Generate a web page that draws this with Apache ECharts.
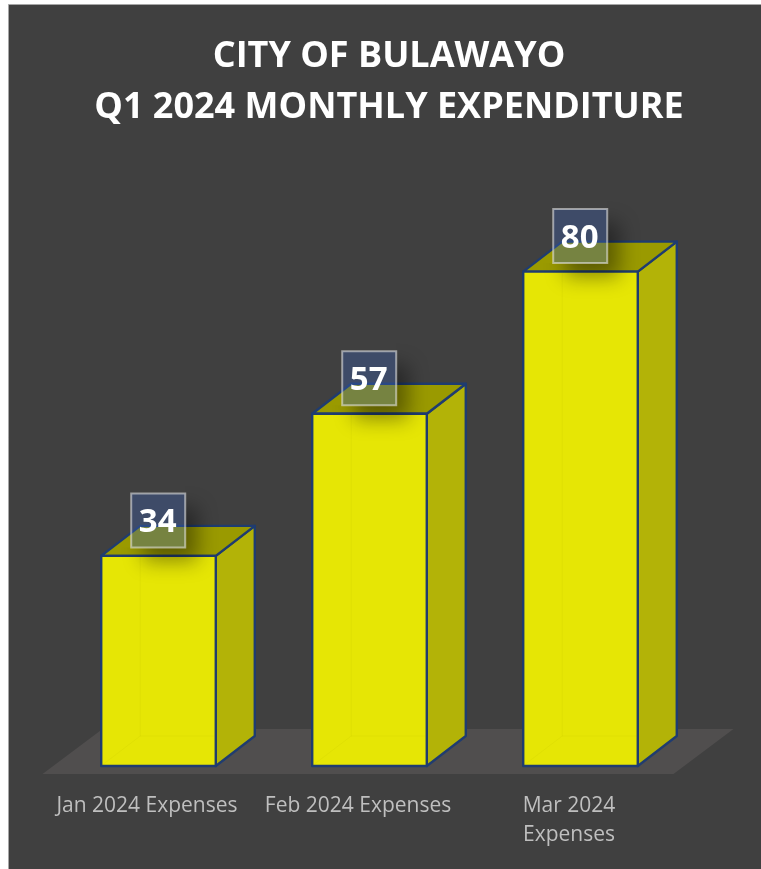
<!DOCTYPE html>
<html>
<head>
<meta charset="utf-8">
<title>City of Bulawayo Q1 2024</title>
<script src="https://cdn.jsdelivr.net/npm/echarts@6/dist/echarts.min.js"></script>
<style>
html, body { margin: 0; padding: 0; background: #fff; }
#chart { width: 761px; height: 869px; }
</style>
</head>
<body>
<div id="chart"></div>
<script>
const categories = ['Jan 2024 Expenses', 'Feb 2024 Expenses', 'Mar 2024\nExpenses']
const expenses = [34, 57, 80]

const depthX = 39
const depthY = 30
const outline = '#1f3c70'

function poly(points, fill, stroke) {
  return {
    type: 'polygon',
    shape: { points },
    style: { fill, stroke: stroke || 'none', lineWidth: 2.4, lineJoin: 'round' },
  }
}

function renderFloor(params, api) {
  const g = params.coordSys
  const y = g.y + g.height
  return poly([
    [g.x - 10, y + 8],
    [g.x + g.width - 12, y + 8],
    [g.x + g.width + 48, y - 37],
    [g.x + 50, y - 37],
  ], '#504e4e')
}

function renderBar(params, api) {
  const top = api.coord([api.value(0), api.value(1)])
  const base = api.coord([api.value(0), 0])
  const w = api.size([1, 0])[0] * 0.543
  const l = top[0] - w / 2 + 0.5
  const r = l + w
  const t = top[1]
  const b = base[1]
  const val = api.value(1)
  const cx = l + 57
  const cy = t - 35.5
  const bx = cx - 27
  const by = cy - 27
  return {
    type: 'group',
    children: [
      poly([[r, t], [r + depthX, t - depthY], [r + depthX, b - depthY], [r, b]], '#b3b307', outline),
      poly([[l, t], [l + depthX, t - depthY], [r + depthX, t - depthY], [r, t]], '#9a9a00', outline),
      poly([[l, t], [r, t], [r, b], [l, b]], '#e6e605', outline),
      // back edges showing faintly through the front face
      {
        type: 'polyline',
        shape: { points: [[l + depthX, t + 1], [l + depthX, b - depthY], [r - 1, b - depthY]] },
        style: { fill: 'none', stroke: 'rgba(150,150,0,0.08)', lineWidth: 1 },
      },
      {
        type: 'line',
        shape: { x1: l + 1, y1: b - 1, x2: l + depthX, y2: b - depthY },
        style: { stroke: 'rgba(150,150,0,0.08)', lineWidth: 1 },
      },
      // soft shadow, drawn from an offscreen rect and clipped so it stays outside the label box
      {
        type: 'rect',
        shape: { x: bx - 2000, y: by, width: 54, height: 54 },
        style: {
          fill: '#000',
          shadowColor: 'rgba(0,0,0,0.4)',
          shadowBlur: 20,
          shadowOffsetX: 2000 + 12,
          shadowOffsetY: 14,
        },
        clipPath: {
          type: 'polygon',
          shape: {
            points: [
              [bx + 54, by - 40], [bx + 120, by - 40], [bx + 120, by + 120],
              [bx - 40, by + 120], [bx - 40, by + 54], [bx + 54, by + 54],
            ],
          },
        },
      },
      {
        type: 'rect',
        shape: { x: bx, y: by, width: 54, height: 54 },
        style: {
          fill: 'rgba(61,95,171,0.38)',
          stroke: 'rgba(225,225,225,0.6)',
          lineWidth: 2,
        },
      },
      {
        type: 'text',
        style: {
          text: String(val),
          x: cx - 0.5,
          y: cy + 2.5,
          fill: '#fff',
          font: 'bold 33px "Open Sans", sans-serif',
          textAlign: 'center',
          textVerticalAlign: 'middle',
        },
      },
    ],
  }
}

const chart = echarts.init(document.getElementById('chart'))
chart.setOption({
  animation: false,
  backgroundColor: '#fff',
  graphic: [{
    type: 'rect',
    z: -1,
    shape: { x: 8.5, y: 4.5, width: 760, height: 870 },
    style: { fill: '#404040', stroke: '#a6a6a6', lineWidth: 1 },
  }],
  title: {
    text: 'CITY OF BULAWAYO\nQ1 2024 MONTHLY EXPENDITURE',
    left: 384,
    top: 26,
    textAlign: 'center',
    textStyle: {
      color: '#fff',
      fontFamily: '"Open Sans", sans-serif',
      fontSize: 36,
      fontWeight: 'bold',
      lineHeight: 51,
    },
  },
  grid: { left: 52.5, width: 633, top: 148, bottom: 103 },
  xAxis: {
    type: 'category',
    data: categories,
    axisLine: { show: false },
    axisTick: { show: false },
    axisLabel: {
      interval: 0,
      color: '#bfbfbf',
      fontFamily: '"Open Sans", sans-serif',
      fontSize: 21,
      lineHeight: 29,
      margin: 26,
      padding: [0, 22, 0, 0],
    },
  },
  yAxis: { type: 'value', min: 0, max: 100, show: false },
  series: [
    {
      type: 'custom',
      silent: true,
      data: [0],
      renderItem: renderFloor,
      z: 1,
    },
    {
      type: 'custom',
      name: 'Expenditure',
      data: expenses.map((v, i) => [i, v]),
      encode: { x: 0, y: 1 },
      renderItem: renderBar,
      z: 2,
    },
  ],
})
</script>
</body>
</html>
